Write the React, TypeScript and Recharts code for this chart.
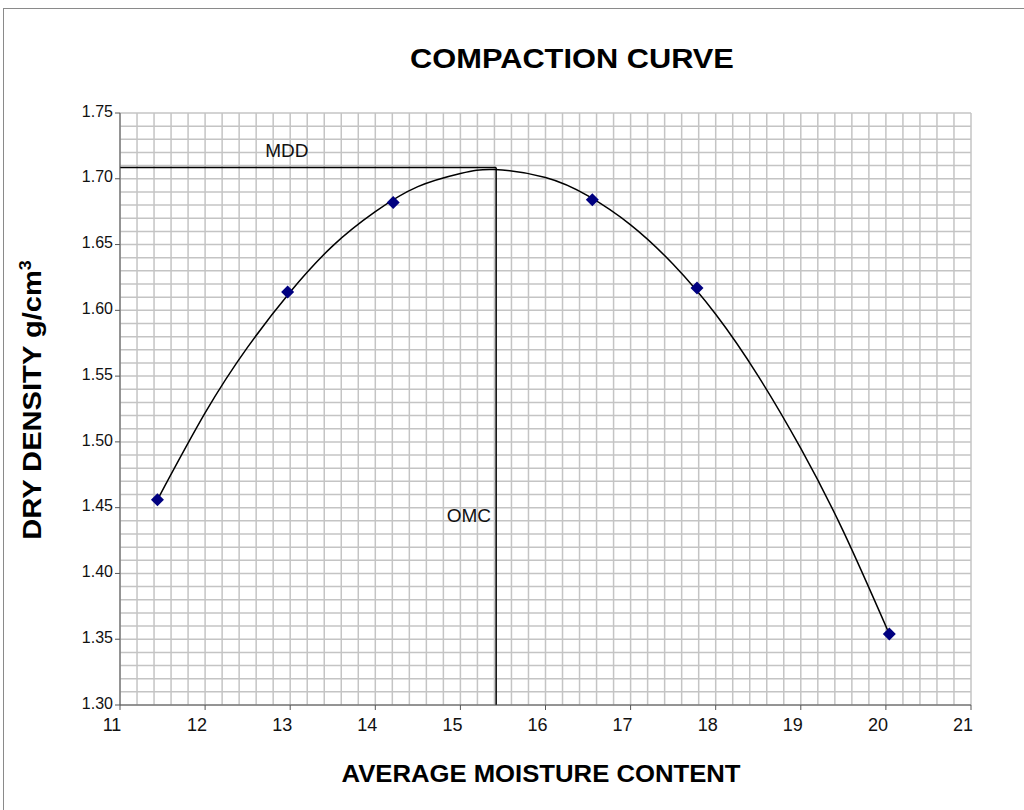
import React from 'react';
import {
  ComposedChart,
  Line,
  Scatter,
  XAxis,
  YAxis,
  ReferenceLine,
  ReferenceDot,
} from 'recharts';

// measured points
const moisture = [11.44, 12.97, 14.21, 16.55, 17.78, 20.04];
const density = [1.456, 1.614, 1.682, 1.684, 1.617, 1.354];

// trend curve
const curveMoisture = [11.44, 12.0, 12.5, 13.0, 13.5, 14.0, 14.5, 15.0, 15.4, 16.0, 16.5, 17.0, 17.5, 18.0, 18.5, 19.0, 19.5, 20.04];
const curveDensity = [1.456, 1.522, 1.572, 1.614, 1.649, 1.675, 1.694, 1.704, 1.707, 1.701, 1.687, 1.665, 1.635, 1.597, 1.55, 1.495, 1.432, 1.354];

const xTicks = [11, 12, 13, 14, 15, 16, 17, 18, 19, 20, 21];
const yTicks = [1.3, 1.35, 1.4, 1.45, 1.5, 1.55, 1.6, 1.65, 1.7, 1.75];

const mdd = 1.7085;
const omc = 15.42;

const xGrid = Array.from({ length: 51 }, (_, i) => 11 + i * 0.2);
const yGrid = Array.from({ length: 46 }, (_, i) => 1.3 + i * 0.01);

const points = moisture.map((x, i) => ({ x, y: density[i] }));
const curve = curveMoisture.map((x, i) => ({ x, y: curveDensity[i] }));

const font = '"Liberation Sans", Arial, sans-serif';

const Diamond = (props: any) => {
  const { cx, cy } = props;
  const r = 6.5;
  return (
    <polygon
      points={`${cx},${cy - r} ${cx + r},${cy} ${cx},${cy + r} ${cx - r},${cy}`}
      fill="#000080"
    />
  );
};

export default function App() {
  return (
    <div style={{ position: 'absolute', left: 0, top: 0, width: 1024, height: 810, overflow: 'hidden', background: '#fff' }}>
      <div style={{ position: 'absolute', left: 3, top: 8, width: 1040, height: 900, border: '1px solid #8a8a8a' }} />
      <div
        style={{
          position: 'absolute',
          left: 572,
          top: 44,
          transform: 'translateX(-50%) scaleX(1.14)',
          fontFamily: font,
          fontWeight: 'bold',
          fontSize: 27,
          whiteSpace: 'nowrap',
        }}
      >
        COMPACTION CURVE
      </div>
      <div
        style={{
          position: 'absolute',
          left: 541,
          top: 760,
          transform: 'translateX(-50%) scaleX(1.07)',
          fontFamily: font,
          fontWeight: 'bold',
          fontSize: 24,
          whiteSpace: 'nowrap',
        }}
      >
        AVERAGE MOISTURE CONTENT
      </div>
      <div
        style={{
          position: 'absolute',
          left: 32,
          top: 400,
          transform: 'translate(-50%, -50%) rotate(-90deg) scaleX(1.12)',
          fontFamily: font,
          fontWeight: 'bold',
          fontSize: 26,
          whiteSpace: 'nowrap',
        }}
      >
        DRY DENSITY g/cm<sup style={{ fontSize: 16 }}>3</sup>
      </div>
      <div style={{ position: 'absolute', left: 8, top: 8 }}>
        <ComposedChart width={1016} height={802} margin={{ top: 105, right: 53, left: 52, bottom: 75 }}>
          <XAxis
            dataKey="x"
            type="number"
            domain={[11, 21]}
            ticks={xTicks}
            allowDataOverflow
            height={30}
            stroke="#555"
            tickSize={5}
            tick={{ fill: '#111', fontSize: 18, fontFamily: font, dx: -8, dy: 6 }}
          />
          <YAxis
            type="number"
            domain={[1.3, 1.75]}
            ticks={yTicks}
            allowDataOverflow
            width={60}
            stroke="#555"
            tickSize={5}
            tickFormatter={(v: number) => v.toFixed(2)}
            tick={{ fill: '#111', fontSize: 16, fontFamily: font, dy: -2 }}
          />
          {xGrid.map((v) => (
            <ReferenceLine key={'gx' + v} x={v} stroke="#c4c4c4" strokeWidth={1.5} />
          ))}
          {yGrid.map((v) => (
            <ReferenceLine key={'gy' + v} y={v} stroke="#c4c4c4" strokeWidth={1.5} />
          ))}
          <ReferenceLine
            segment={[{ x: 11, y: mdd }, { x: omc, y: mdd }]}
            stroke="#000"
            strokeWidth={1.5}
          />
          <ReferenceLine
            segment={[{ x: omc, y: 1.3 }, { x: omc, y: mdd }]}
            stroke="#000"
            strokeWidth={1.5}
          />
          <ReferenceDot
            x={12.96}
            y={1.722}
            r={0}
            stroke="none"
            label={{ value: 'MDD', position: 'center', fontSize: 19, fill: '#111', fontFamily: font }}
          />
          <ReferenceDot
            x={15.1}
            y={1.444}
            r={0}
            stroke="none"
            label={{ value: 'OMC', position: 'center', fontSize: 19, fill: '#111', fontFamily: font }}
          />
          <Line
            data={curve}
            dataKey="y"
            type="natural"
            stroke="#000"
            strokeWidth={1.5}
            dot={false}
            activeDot={false}
            isAnimationActive={false}
          />
          <Scatter data={points} dataKey="y" shape={<Diamond />} isAnimationActive={false} />
        </ComposedChart>
      </div>
    </div>
  );
}
